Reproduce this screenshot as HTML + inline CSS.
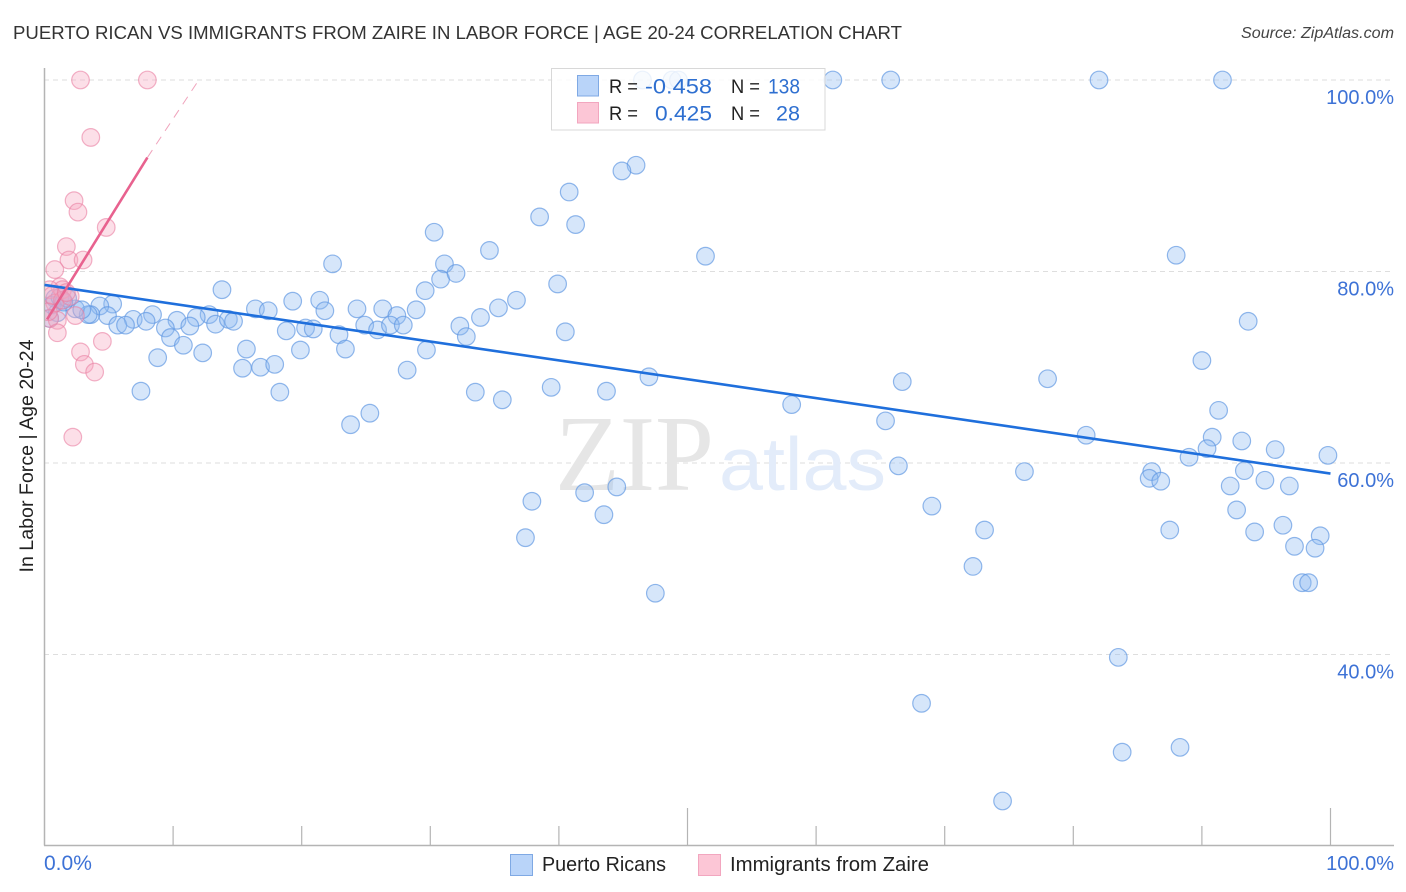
<!DOCTYPE html>
<html lang="en">
<head>
<meta charset="utf-8">
<title>Puerto Rican vs Immigrants from Zaire in Labor Force | Age 20-24 Correlation Chart</title>
<style>
html,body{margin:0;padding:0;background:#fff;width:1406px;height:892px;overflow:hidden}
svg{display:block;font-family:"Liberation Sans",sans-serif}
</style>
</head>
<body>
<svg id="chart" xmlns="http://www.w3.org/2000/svg" width="1406" height="892" viewBox="0 0 1406 892">
  <defs><clipPath id="plot-clip"><rect x="45" y="60" width="1349" height="785"/></clipPath></defs>
  <rect x="0" y="0" width="1406" height="892" fill="#fff"/>
  <text x="13" y="39" font-size="18.5" fill="#333" textLength="889" lengthAdjust="spacingAndGlyphs">PUERTO RICAN VS IMMIGRANTS FROM ZAIRE IN LABOR FORCE | AGE 20-24 CORRELATION CHART</text>
  <text x="1394" y="38" font-size="15.5" font-style="italic" fill="#444" text-anchor="end" textLength="153" lengthAdjust="spacingAndGlyphs">Source: ZipAtlas.com</text>
  <text transform="translate(33,456) rotate(-90)" font-size="19" fill="#222" text-anchor="middle" textLength="233" lengthAdjust="spacingAndGlyphs">In Labor Force | Age 20-24</text>
  <g id="grid"></g>
  <g>
    <text x="555" y="490" font-family="'Liberation Serif',serif" font-size="108" fill="#e6e6e6" textLength="159" lengthAdjust="spacingAndGlyphs">ZIP</text>
    <text x="719" y="490" font-size="75" fill="#e3ecfa" textLength="167" lengthAdjust="spacingAndGlyphs">atlas</text>
  </g>
  <g id="axes"></g>
  <g id="points-blue" clip-path="url(#plot-clip)"></g>
  <g id="points-pink" clip-path="url(#plot-clip)"></g>
  <g id="trends"></g>
  <g id="tick-labels"></g>
  <g>
    <rect x="551.5" y="68.5" width="273.5" height="61.5" fill="#fff" fill-opacity="0.82" stroke="#d8d8d8" stroke-width="1"/>
    <rect x="577.5" y="75.5" width="21" height="20.5" fill="#b9d4f9" stroke="#7fa9e4"/>
    <rect x="577.5" y="102.5" width="21" height="20.5" fill="#fcc6d6" stroke="#f2a6bf"/>
    <text x="609" y="93" font-size="19.5" fill="#222" textLength="29" lengthAdjust="spacingAndGlyphs">R =</text>
    <text x="645" y="93.5" font-size="21.5" fill="#2e6fd0" textLength="67" lengthAdjust="spacingAndGlyphs">-0.458</text>
    <text x="731" y="93" font-size="19.5" fill="#222" textLength="29" lengthAdjust="spacingAndGlyphs">N =</text>
    <text x="768" y="93.5" font-size="21.5" fill="#2e6fd0" textLength="32" lengthAdjust="spacingAndGlyphs">138</text>
    <text x="609" y="120" font-size="19.5" fill="#222" textLength="29" lengthAdjust="spacingAndGlyphs">R =</text>
    <text x="655" y="120.5" font-size="21.5" fill="#2e6fd0" textLength="57" lengthAdjust="spacingAndGlyphs">0.425</text>
    <text x="731" y="120" font-size="19.5" fill="#222" textLength="29" lengthAdjust="spacingAndGlyphs">N =</text>
    <text x="776" y="120.5" font-size="21.5" fill="#2e6fd0" textLength="24" lengthAdjust="spacingAndGlyphs">28</text>
  </g>
  <g>
    <rect x="510.5" y="854.5" width="22" height="21" fill="#b9d4f9" stroke="#7fa9e4"/>
    <text x="542" y="871" font-size="20" fill="#222" textLength="124" lengthAdjust="spacingAndGlyphs">Puerto Ricans</text>
    <rect x="698.5" y="854.5" width="22" height="21" fill="#fcc6d6" stroke="#f2a6bf"/>
    <text x="730" y="871" font-size="20" fill="#222" textLength="199" lengthAdjust="spacingAndGlyphs">Immigrants from Zaire</text>
  </g>
</svg>
<script>
// Values (percent units).
const yTickValues = [100, 80, 60, 40];
const yTickLabels = ["100.0%", "80.0%", "60.0%", "40.0%"];
const xTickValues = [0, 10, 20, 30, 40, 50, 60, 70, 80, 90, 100];
const xEndLabels = ["0.0%", "100.0%"];

const puertoRicanX = [46.5,48.8,49.3,61.3,65.8,82.0,91.6,46.0,44.9,40.8,38.5,41.3,30.3,34.6,51.4,88.0,22.4,31.1,30.8,32.0,39.9,29.6,13.8,36.7,19.3,21.4,35.3,5.3,4.3,24.3,26.3,16.4,17.4,28.9,27.4,33.9,21.8,8.4,6.9,4.9,3.6,3.4,2.4,2.9,12.8,11.8,10.3,7.9,5.7,6.3,9.4,11.3,13.3,14.3,14.7,20.3,20.9,18.8,24.9,25.9,26.9,27.9,32.3,32.8,22.9,9.8,10.8,12.3,8.8,15.7,19.9,23.4,29.7,40.5,93.6,15.4,16.8,17.9,28.2,90.0,47.0,66.7,7.5,18.3,33.5,39.4,43.7,35.6,58.1,78.0,91.3,65.4,25.3,23.8,81.0,90.8,93.1,95.7,90.4,89.0,99.8,66.4,76.2,86.1,93.3,85.9,86.8,94.9,92.2,96.8,44.5,42.0,37.9,69.0,43.5,92.7,73.1,87.5,96.3,94.1,99.2,37.4,97.2,98.8,72.2,97.8,98.3,47.5,83.5,68.2,83.8,88.3,74.5,0.8,1.4,0.6,1.2,1.8,1.0,0.4,1.5];
const puertoRicanY = [100,100,100,100,100,100,100,91.1,90.5,88.3,85.7,84.9,84.1,82.2,81.6,81.7,80.8,80.8,79.2,79.8,78.7,78.0,78.1,77.0,76.9,77.0,76.2,76.6,76.4,76.1,76.1,76.1,75.9,76.0,75.4,75.2,75.9,75.5,75.0,75.4,75.5,75.5,76.1,76.0,75.5,75.2,74.9,74.8,74.4,74.4,74.1,74.3,74.5,75.0,74.8,74.1,74.0,73.8,74.4,73.9,74.4,74.4,74.3,73.2,73.4,73.1,72.3,71.5,71.0,71.9,71.8,71.9,71.8,73.7,74.8,69.9,70.0,70.3,69.7,70.7,69.0,68.5,67.5,67.4,67.4,67.9,67.5,66.6,66.1,68.8,65.5,64.4,65.2,64.0,62.9,62.7,62.3,61.4,61.5,60.6,60.8,59.7,59.1,59.1,59.2,58.4,58.1,58.2,57.6,57.6,57.5,56.9,56.0,55.5,54.6,55.1,53.0,53.0,53.5,52.8,52.4,52.2,51.3,51.1,49.2,47.5,47.5,46.4,39.7,34.9,29.8,30.3,24.7,77.2,77.0,76.5,77.3,77.2,75.7,75.1,76.8];

const immigrantX = [2.8,8.0,3.6,2.3,2.6,4.8,1.7,1.9,3.0,0.8,1.2,1.4,0.4,0.8,1.4,2.0,2.4,0.4,1.0,1.0,4.5,2.8,3.1,3.9,2.2,0.3,0.6,1.7];
const immigrantY = [100,100,94.0,87.4,86.2,84.6,82.6,81.2,81.2,80.2,78.4,78.1,78.1,76.7,77.0,77.4,75.4,75.1,74.9,73.6,72.7,71.6,70.3,69.5,62.7,75.8,77.5,77.8];

const puertoRicanTrendX = [0, 100];
const puertoRicanTrendY = [78.6, 58.9];
const immigrantTrendX = [0.2, 8.0];
const immigrantTrendY = [75.0, 91.9];
const immigrantDashX = [8.0, 11.9];
const immigrantDashY = [91.9, 99.8];

const SVGNS = "http://www.w3.org/2000/svg";
function xScale(v){ return 44.5 + v * 12.86; }
function yScale(v){ return 80 + (100 - v) * 9.575; }
function make(tag, parentId, attrs){
  const el = document.createElementNS(SVGNS, tag);
  for (const k in attrs) el.setAttribute(k, attrs[k]);
  document.getElementById(parentId).appendChild(el);
  return el;
}

yTickValues.forEach(function(v, i){
  const grid = make("line", "grid", {x1:44, x2:1394, y1:yScale(v), y2:yScale(v), stroke:"#dedede", "stroke-width":1, "stroke-dasharray":"5 4"});
  
  
  const label = make("text", "tick-labels", {x:1394, y:yScale(v) + 24, "font-size":20, fill:"#3d72d6", "text-anchor":"end"});
  
  
  label.textContent = yTickLabels[i];
});

const yAxisLine = make("line", "axes", {x1:44.5, x2:44.5, y1:68, y2:845.5, stroke:"#b4b4b4", "stroke-width":1.5});


const xAxisLine = make("line", "axes", {x1:44, x2:1394, y1:845.5, y2:845.5, stroke:"#b4b4b4", "stroke-width":1.5});



xTickValues.forEach(function(v){
  if (v === 0) return;
  const top = (v === 50 || v === 100) ? 808 : 826;
  const tick = make("line", "axes", {x1:xScale(v), x2:xScale(v), y1:top, y2:845, stroke:"#b4b4b4", "stroke-width":1.2});
  
  
});

const xLabelStart = make("text", "tick-labels", {x:44, y:870, "font-size":21, fill:"#3d72d6"});


xLabelStart.textContent = xEndLabels[0];
const xLabelEnd = make("text", "tick-labels", {x:1394, y:870, "font-size":20, fill:"#3d72d6", "text-anchor":"end"});


xLabelEnd.textContent = xEndLabels[1];

puertoRicanX.forEach(function(x, i){
  const dot = make("circle", "points-blue", {cx:xScale(x), cy:yScale(puertoRicanY[i]), r:8.8, fill:"#8db9f2", "fill-opacity":0.36, stroke:"#5e97e2", "stroke-opacity":0.68, "stroke-width":1.2});
  
  
});
immigrantX.forEach(function(x, i){
  const dot = make("circle", "points-pink", {cx:xScale(x), cy:yScale(immigrantY[i]), r:8.8, fill:"#f7a6bf", "fill-opacity":0.36, stroke:"#ea7fa2", "stroke-opacity":0.6, "stroke-width":1.2});
  
  
});

const blueTrend = make("line", "trends", {x1:xScale(puertoRicanTrendX[0]), y1:yScale(puertoRicanTrendY[0]), x2:xScale(puertoRicanTrendX[1]), y2:yScale(puertoRicanTrendY[1]), stroke:"#1f6fdc", "stroke-width":2.6});


const pinkTrend = make("line", "trends", {x1:xScale(immigrantTrendX[0]), y1:yScale(immigrantTrendY[0]), x2:xScale(immigrantTrendX[1]), y2:yScale(immigrantTrendY[1]), stroke:"#e8628f", "stroke-width":2.6});


const pinkDash = make("line", "trends", {x1:xScale(immigrantDashX[0]), y1:yScale(immigrantDashY[0]), x2:xScale(immigrantDashX[1]), y2:yScale(immigrantDashY[1]), stroke:"#f0a3bc", "stroke-width":1, "stroke-dasharray":"9 7"});


</script>
</body>
</html>
